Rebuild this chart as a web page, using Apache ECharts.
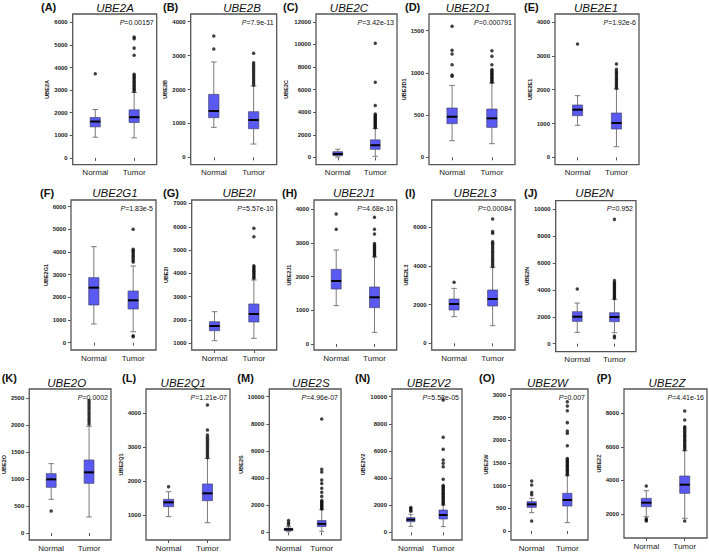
<!DOCTYPE html>
<html><head><meta charset="utf-8">
<script src="https://cdn.jsdelivr.net/npm/echarts@6/dist/echarts.min.js"></script>
<style>html,body{margin:0;padding:0;background:#fff}#c{width:709px;height:552px}</style>
</head><body><div id="c"></div>
<script>
// ---------- DATA ----------
const categories = ['Normal', 'Tumor'];
const genes = ['UBE2A','UBE2B','UBE2C','UBE2D1','UBE2E1','UBE2G1','UBE2I','UBE2J1','UBE2L3','UBE2N','UBE2O','UBE2Q1','UBE2S','UBE2V2','UBE2W','UBE2Z'];
const panelLabels = ['(A)','(B)','(C)','(D)','(E)','(F)','(G)','(H)','(I)','(J)','(K)','(L)','(M)','(N)','(O)','(P)'];
const pValues = ['0.00157','7.9e-11','3.42e-13','0.000791','1.92e-6','1.83e-5','5.57e-10','4.68e-10','0.00084','0.952','0.0002','1.21e-07','4.96e-07','5.58e-05','0.007','4.41e-16'];
// [lower whisker, Q1, median, Q3, upper whisker]
const normalStats = [
  [917,1375,1611,1789,2143],
  [885,1170,1366,1857,2811],
  [30,150,300,500,720],
  [197,399,481,584,852],
  [946,1232,1409,1547,1823],
  [824,1662,2426,2868,4235],
  [1112,1541,1742,1927,2357],
  [1136,1630,1867,2212,2785],
  [1379,1724,2034,2293,2845],
  [842,1658,2005,2376,3020],
  [625,848,996,1101,1287],
  [961,1255,1382,1471,1696],
  [50,127,225,300,427],
  [442,786,934,1081,1327],
  [404,522,588,647,721],
  [1841,2437,2675,2933,3390]
];
const tumorStats = [
  [887,1567,1803,2129,2897],
  [393,845,1101,1346,2103],
  [90,715,1075,1550,2565],
  [162,355,462,572,880],
  [315,837,1015,1310,2020],
  [480,1485,1868,2279,3382],
  [1215,1914,2258,2687,3717],
  [346,1077,1383,1689,2580],
  [914,1931,2293,2759,3931],
  [817,1634,1980,2302,3292],
  [297,922,1126,1355,1980],
  [784,1431,1647,1922,2676],
  [75,425,625,875,1680],
  [418,983,1278,1646,2015],
  [184,551,684,831,1220],
  [1742,3231,3748,4264,5774]
];
const normalOutliers = [
  [3725],
  [3194,3577],
  [],
  [959,975,1097,1223,1267,1551],
  [3350],
  [],
  [],
  [3398,3852],
  [3155],
  [4059],
  [408],
  [1843],
  [577,704,876],
  [1550,1650,1750,1830],
  [221,800,850,1015,1103],
  [3668,1720,1642,1580]
];
const tumorOutliers = [
  [2950,3020,3080,3150,3220,3290,3360,3430,3500,3570,3640,3700,4540,4860,5280,5350],
  [2130,2190,2250,2310,2370,2430,2490,2550,2610,2670,2730,2790,3066],
  [2620,2720,2820,2920,3020,3120,3220,3320,3420,3520,3620,3720,3850,4600,6660,10100],
  [890,905,920,935,950,965,980,995,1010,1025,1040,1097,1196,1263],
  [2040,2090,2140,2190,2240,2290,2340,2390,2440,2490,2540,2600,2760],
  [3560,3620,3700,3780,3850,3920,4000,4060,4120,5000,260,300],
  [3790,3850,3910,3970,4030,4090,4150,4210,4270,4330,5575,5936],
  [2610,2650,2690,2730,2770,2810,2850,2890,2930,2980,3259,3398,3753],
  [3980,4080,4180,4280,4380,4480,4580,4680,4780,4880,4980,5080,5180,5260,5690,5780,6431],
  [3350,3450,3550,3650,3750,3850,3950,4050,4150,4250,4350,4450,4550,4700,9233,569,446],
  [2020,2060,2100,2140,2180,2220,2260,2300,2340,2380,2420,2460],
  [2700,2760,2820,2880,2940,3000,3060,3120,3180,3240,3300,3360,3510,4245],
  [1720,1800,1880,1960,2040,2120,2200,2280,2350,2650,2950,3250,3600,3850,4450,4650,8350],
  [2080,2180,2280,2380,2480,2580,2680,2780,2880,2980,3080,3180,3280,3380,3460,3907,4840,5086,5332,6118,7002,9754],
  [1240,1270,1300,1330,1360,1390,1420,1450,1480,1510,1540,1570,1600,1882,2154,2206,2390,2654,2757,2853],
  [5830,5930,6030,6130,6230,6330,6430,6530,6630,6730,6830,6930,7030,7130,7204,7601,8137,1583]
];
const yTicks = [
  [0,1000,2000,3000,4000,5000,6000],
  [0,1000,2000,3000,4000],
  [0,2000,4000,6000,8000,10000,12000],
  [0,500,1000,1500],
  [0,1000,2000,3000,4000],
  [0,1000,2000,3000,4000,5000,6000],
  [1000,2000,3000,4000,5000,6000,7000],
  [0,1000,2000,3000,4000],
  [0,2000,4000,6000],
  [0,2000,4000,6000,8000,10000],
  [0,500,1000,1500,2000,2500],
  [1000,2000,3000,4000],
  [0,2000,4000,6000,8000,10000],
  [0,2000,4000,6000,8000,10000],
  [0,500,1000,1500,2000,2500,3000],
  [2000,4000,6000,8000]
];
const yRanges = [
  [-300,6370],[-216,4226],[-650,12700],[-87,1697],[-217,4236],
  [-324,6294],[713,7150],[-178,4267],[-345,7414],[-594,10619],
  [-130,2673],[275,4716],[-565,10565],[-565,10565],[-199,3132],[570,9450]
];

// ---------- LAYOUT (pixels) ----------
// [left, top, right, bottom, nameGap, labelX, titleX]
const frames = [
  [72.7,14,156.7,164.7,20,41,115],
  [190.7,14,276.7,164.7,20,163,242],
  [316,14,397,164.7,27,283,349],
  [429,14,515,164.7,18,405,468],
  [555,14,639,164.7,21,524,596],
  [71,200,156,350,20,40,115],
  [191.7,200,276.7,350,20,163,239],
  [314,200,396.7,350,20,282,354],
  [431.7,200,515,350,20,405,475],
  [555.7,200.7,636,351.7,24,524,594.5],
  [26,389,111,540,20,1.7,66.7],
  [146,389,230,540,20,122,183.3],
  [269.3,389,341,540,24,237.3,310.8],
  [392,389,462,540,25,355,428.8],
  [511,389,588,540,22,479,547.5],
  [624,389,707,538,20,596.7,667]
];
const rowTextY = [[6.7,7.7],[192.7,193.3],[377.5,383]];

const BOX_FILL = '#5a5af2', BOX_EDGE = '#45456e', WHISK = '#7a7a7a', FRAME = '#555';

const grid=[], xAxis=[], yAxis=[], series=[], graphic=[];

function renderBox(params, api){
  const x = api.value(0);
  const v = [1,2,3,4,5].map(k=>api.value(k));
  const p = v.map(val=>api.coord([x,val]));
  const cx = p[0][0];
  const hw = api.size([0.26,0])[0]/2;
  const yLo=p[0][1], yQ1=p[1][1], yMed=p[2][1], yQ3=p[3][1], yHi=p[4][1];
  const ws = {stroke: WHISK, lineWidth: 1};
  return {type:'group', children:[
    {type:'line', shape:{x1:cx,y1:yLo,x2:cx,y2:yQ1}, style:ws},
    {type:'line', shape:{x1:cx,y1:yQ3,x2:cx,y2:yHi}, style:ws},
    {type:'line', shape:{x1:cx-hw*0.55,y1:yLo,x2:cx+hw*0.55,y2:yLo}, style:ws},
    {type:'line', shape:{x1:cx-hw*0.55,y1:yHi,x2:cx+hw*0.55,y2:yHi}, style:ws},
    {type:'rect', shape:{x:cx-hw,y:yQ3,width:2*hw,height:yQ1-yQ3}, style:{fill:BOX_FILL, stroke:BOX_EDGE, lineWidth:0.7}},
    {type:'line', shape:{x1:cx-hw,y1:yMed,x2:cx+hw,y2:yMed}, style:{stroke:'#000', lineWidth:2}}
  ]};
}

genes.forEach((g,i)=>{
  const [L,T,R,B,gap,lx,tx] = frames[i];
  const row = i<5?0:(i<10?1:2);
  grid.push({left:L, top:T, width:R-L, height:B-T, show:true, borderColor:FRAME, borderWidth:1.3, backgroundColor:'#fff'});
  xAxis.push({type:'value', gridIndex:i, min:0.42, max:2.58,
    axisLine:{show:false}, splitLine:{show:false},
    axisTick:{show:true, length:3, customValues:[1,2], lineStyle:{color:FRAME}},
    axisLabel:{show:true, customValues:[1,2], margin:4, fontSize:8, color:'#222', fontFamily:'Liberation Sans',
      formatter:(v)=>categories[Math.round(v)-1]}});
  yAxis.push({type:'value', gridIndex:i, min:yRanges[i][0], max:yRanges[i][1],
    axisLine:{show:false}, splitLine:{show:false},
    axisTick:{show:true, length:3, customValues:yTicks[i], lineStyle:{color:FRAME}},
    axisLabel:{show:true, customValues:yTicks[i], margin:5, fontSize:6, fontWeight:'bold', color:'#222', fontFamily:'Liberation Sans',
      formatter:(v)=>String(Math.round(v))},
    name:g, nameLocation:'middle', nameGap:gap, nameRotate:90,
    nameTextStyle:{fontSize:5.5, fontWeight:'bold', color:'#222', fontFamily:'Liberation Sans'}});
  series.push({type:'custom', xAxisIndex:i, yAxisIndex:i, silent:true, renderItem:renderBox,
    encode:{x:0, y:[1,2,3,4,5]},
    data:[[1].concat(normalStats[i]), [2].concat(tumorStats[i])]});
  series.push({type:'scatter', xAxisIndex:i, yAxisIndex:i, silent:true, symbolSize:3.5,
    itemStyle:{color:'#111'},
    data: normalOutliers[i].map(v=>[1,v]).concat(tumorOutliers[i].map(v=>[2,v]))});
  graphic.push({type:'text', x:lx, y:rowTextY[row][0], silent:true,
    style:{text:panelLabels[i], font:'bold 11px "Liberation Sans"', fill:'#111', textAlign:'left', textVerticalAlign:'middle'}});
  graphic.push({type:'text', x:tx, y:rowTextY[row][1], silent:true,
    style:{text:g, font:'italic 11.5px "Liberation Sans"', fill:'#111', textAlign:'center', textVerticalAlign:'middle'}});
  graphic.push({type:'text', x:R-3, y:T+8, silent:true,
    style:{text:'{i|P}=' + pValues[i], font:'7px "Liberation Sans"', fill:'#111', textAlign:'right', textVerticalAlign:'middle',
      rich:{i:{fontStyle:'italic', fontSize:7, fontFamily:'Liberation Sans', fill:'#111'}}}});
});

const chart = echarts.init(document.getElementById('c'), null, {renderer:'svg'});
chart.setOption({animation:false, backgroundColor:'#fff', grid, xAxis, yAxis, series, graphic});
</script></body></html>
